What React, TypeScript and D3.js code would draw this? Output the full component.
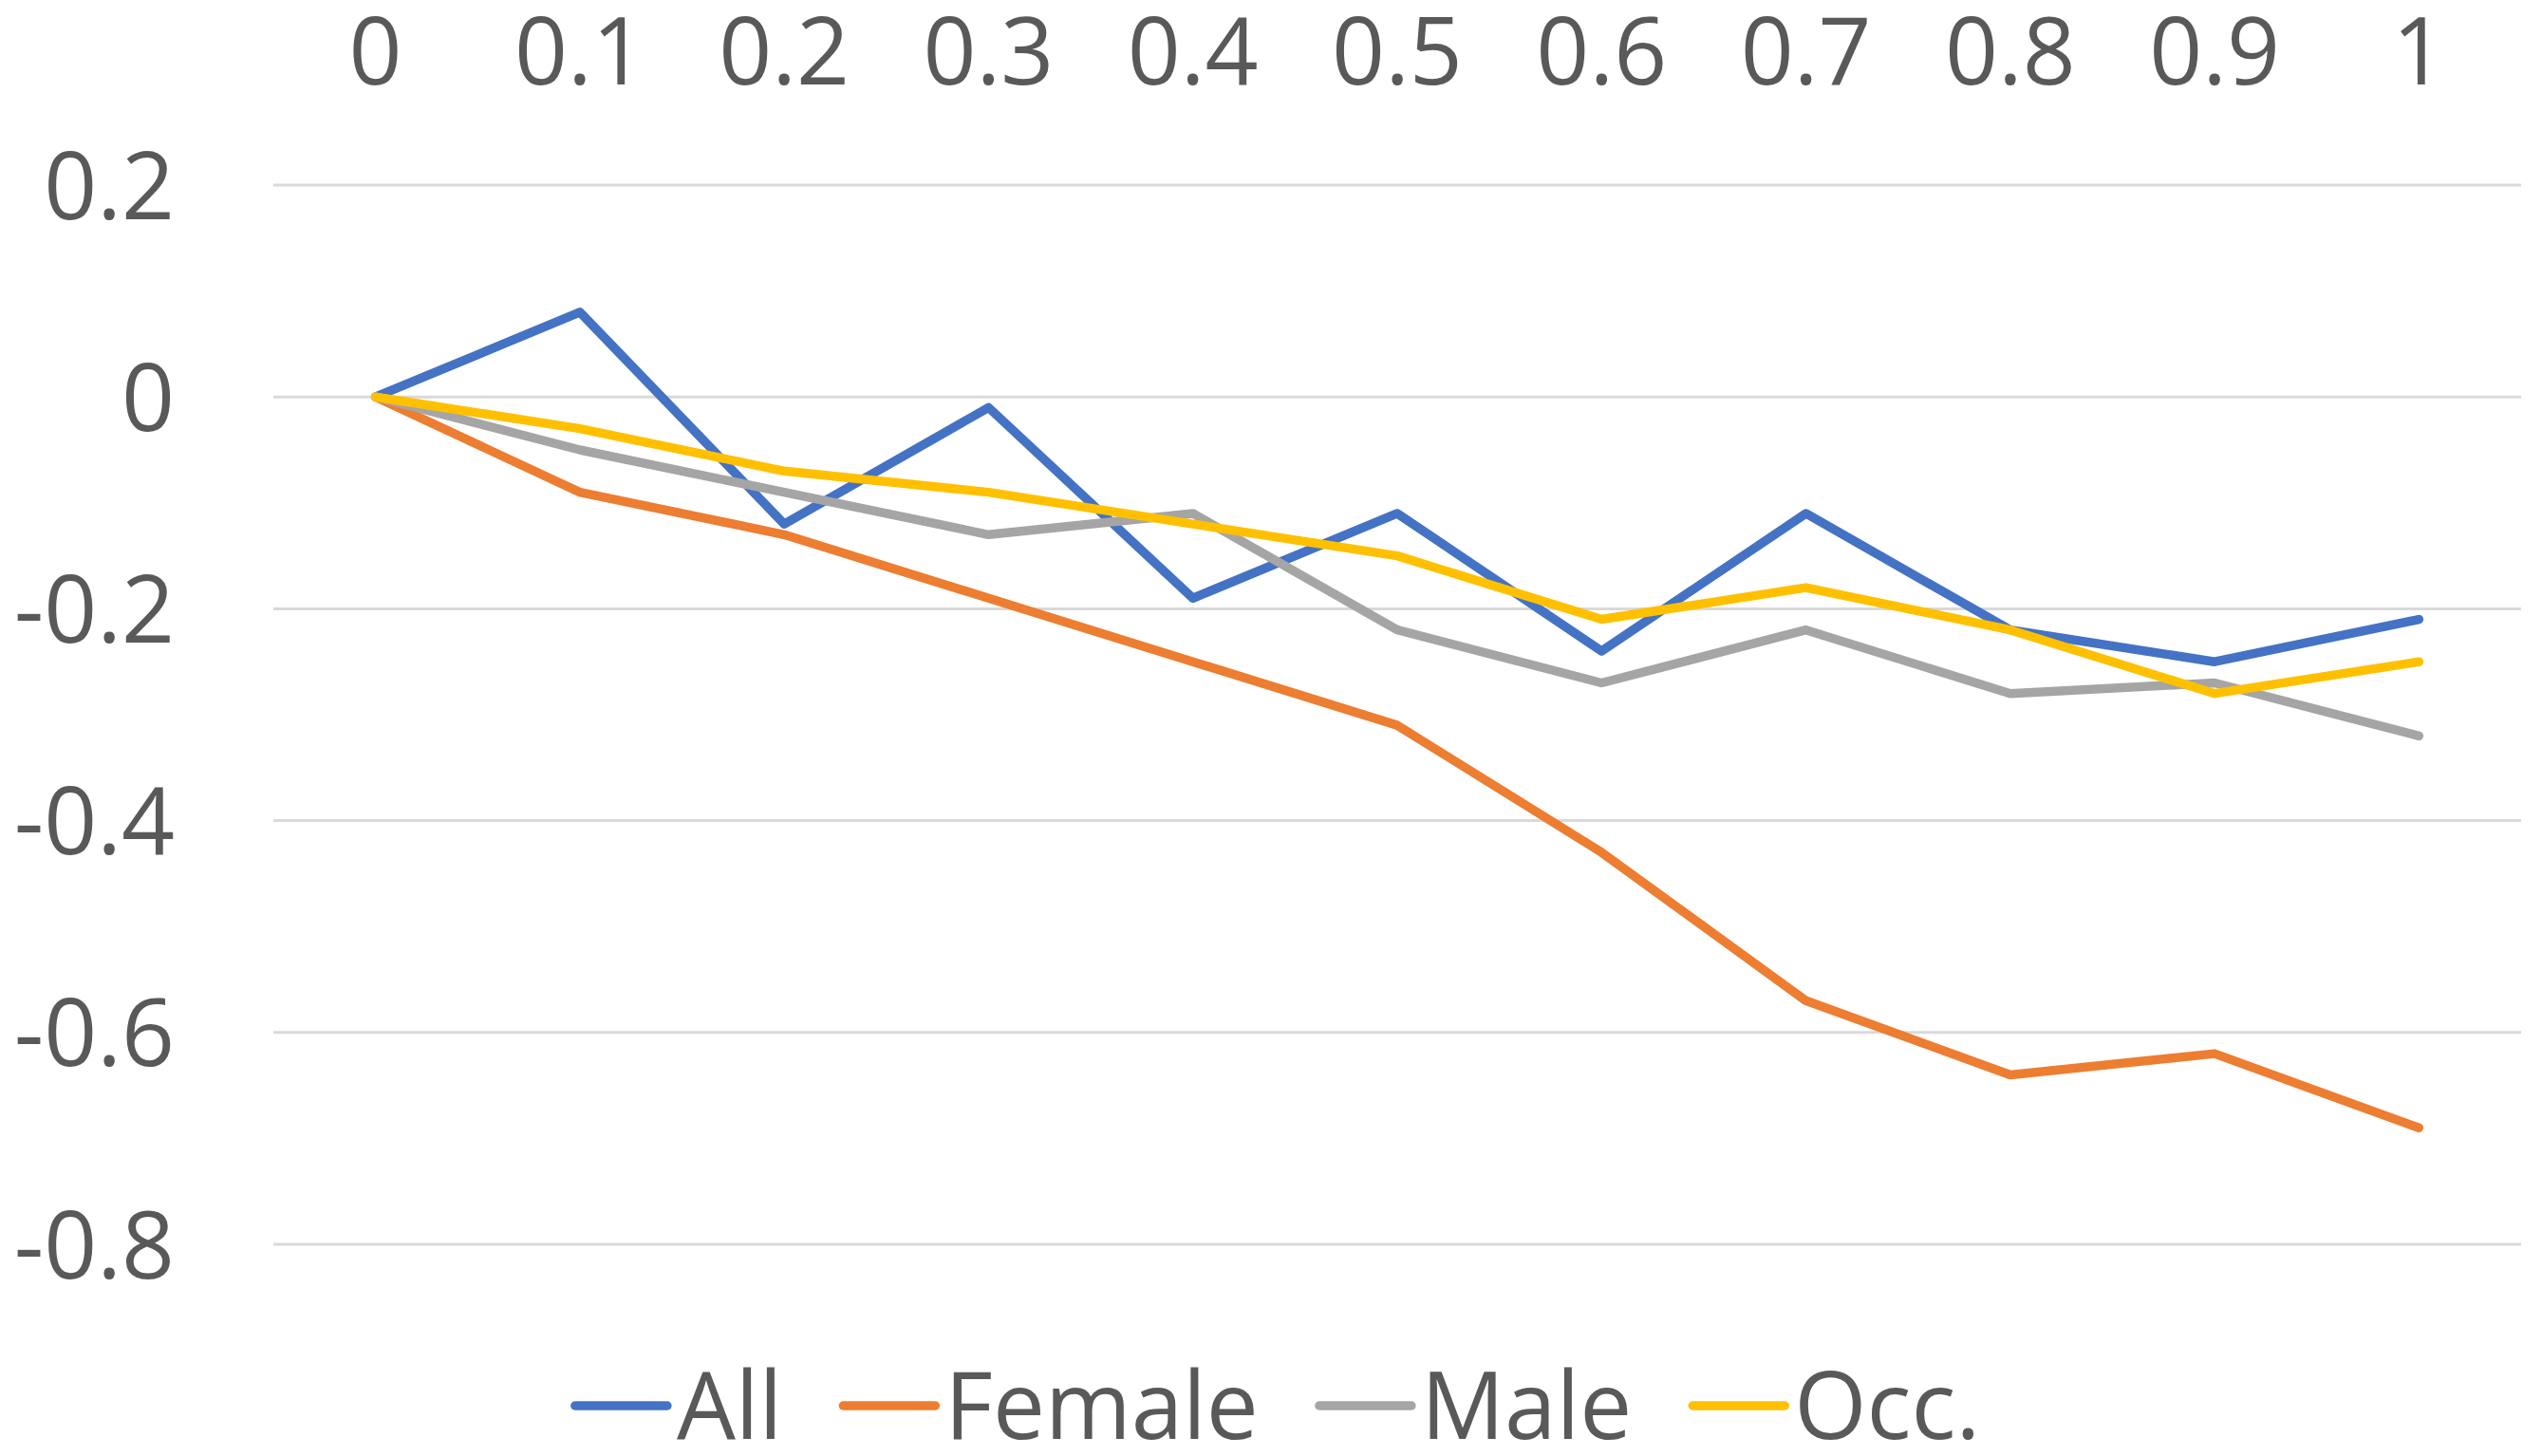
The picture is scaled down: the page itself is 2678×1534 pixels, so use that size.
import * as d3 from "d3";
import { useEffect, useRef } from "react";

const categories = ["0", "0.1", "0.2", "0.3", "0.4", "0.5", "0.6", "0.7", "0.8", "0.9", "1"];
const yTicks = [0.2, 0, -0.2, -0.4, -0.6, -0.8];

const allValues = [0, 0.08, -0.12, -0.01, -0.19, -0.11, -0.24, -0.11, -0.22, -0.25, -0.21];
const femaleValues = [0, -0.09, -0.13, -0.19, -0.25, -0.31, -0.43, -0.57, -0.64, -0.62, -0.69];
const maleValues = [0, -0.05, -0.09, -0.13, -0.11, -0.22, -0.27, -0.22, -0.28, -0.27, -0.32];
const occValues = [0, -0.03, -0.07, -0.09, -0.12, -0.15, -0.21, -0.18, -0.22, -0.28, -0.25];

const seriesNames = ["All", "Female", "Male", "Occ."];
const seriesColors = ["#4472C4", "#ED7D31", "#A5A5A5", "#FFC000"];

const W = 2678;
const H = 1534;
const FONT = "'Open Sans', 'Noto Sans', sans-serif";
const TEXT = "#595959";

export default function App() {
  const ref = useRef<SVGSVGElement>(null);

  useEffect(() => {
    document.body.style.margin = "0";
    if (!ref.current) return;
    const svg = d3.select(ref.current);
    svg.selectAll("*").remove();

    const plot = { left: 288, right: 2656, top: 195, bottom: 1311 };
    const x = d3.scalePoint<string>().domain(categories).range([plot.left, plot.right]).padding(0.5);
    const y = d3.scaleLinear().domain([-0.8, 0.2]).range([plot.bottom, plot.top]);

    svg.append("rect").attr("width", W).attr("height", H).attr("fill", "#fff");

    // gridlines
    svg.append("g").selectAll("line").data(yTicks).join("line")
      .attr("x1", plot.left).attr("x2", plot.right)
      .attr("y1", (d) => y(d)).attr("y2", (d) => y(d))
      .attr("stroke", "#d9d9d9").attr("stroke-width", 3);

    // y labels
    svg.append("g").selectAll("text").data(yTicks).join("text")
      .attr("x", 184).attr("y", (d) => y(d) + 35.5)
      .attr("text-anchor", "end")
      .attr("font-family", FONT).attr("font-size", 98).attr("fill", TEXT)
      .text((d) => `${+d.toFixed(1)}`);

    // category labels sit above the plot
    svg.append("g").selectAll("text").data(categories).join("text")
      .attr("x", (d) => x(d)!).attr("y", 89)
      .attr("text-anchor", "middle")
      .attr("font-family", FONT).attr("font-size", 98).attr("fill", TEXT)
      .text((d) => d);

    const series = [allValues, femaleValues, maleValues, occValues];
    const line = d3.line<number>()
      .x((_, i) => x(categories[i])!)
      .y((d) => y(d));

    series.forEach((vals, i) => {
      svg.append("path")
        .datum(vals)
        .attr("d", line)
        .attr("fill", "none")
        .attr("stroke", seriesColors[i])
        .attr("stroke-width", 9.5)
        .attr("stroke-linejoin", "round")
        .attr("stroke-linecap", "round");
    });

    // legend, centred under the chart
    const lineLen = 97;
    const gapText = 10;
    const gapItem = 64;
    const lg = svg.append("g");
    const items = seriesNames.map((name, i) => {
      const g = lg.append("g");
      g.append("line")
        .attr("x1", 0).attr("x2", lineLen)
        .attr("y1", 1481).attr("y2", 1481)
        .attr("stroke", seriesColors[i]).attr("stroke-width", 9.5)
        .attr("stroke-linecap", "round");
      const t = g.append("text")
        .attr("x", lineLen + gapText).attr("y", 1516)
        .attr("font-family", FONT).attr("font-size", 98).attr("fill", TEXT)
        .text(name);
      const tw = (t.node() as SVGTextElement).getComputedTextLength();
      return { g, w: lineLen + gapText + tw };
    });
    const total = d3.sum(items, (d) => d.w) + gapItem * (items.length - 1);
    let cx = 1346 - total / 2;
    items.forEach((it) => {
      it.g.attr("transform", `translate(${cx},0)`);
      cx += it.w + gapItem;
    });
  }, []);

  return (
    <svg
      ref={ref}
      width={W}
      height={H}
      style={{ display: "block", position: "absolute", left: 0, top: 0 }}
    />
  );
}
